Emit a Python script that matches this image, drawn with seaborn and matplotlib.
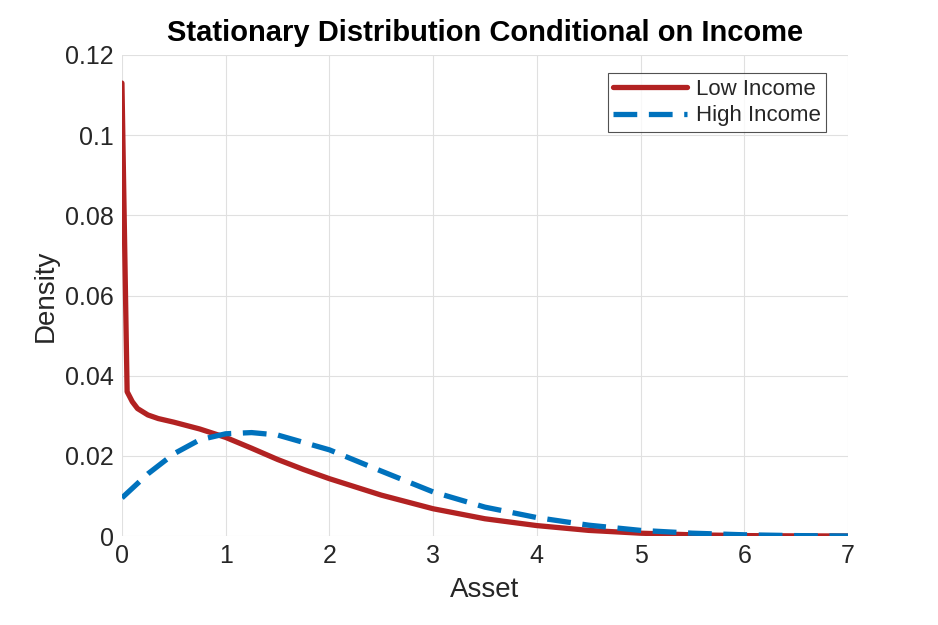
import matplotlib
matplotlib.use("Agg")
import matplotlib.pyplot as plt
import seaborn as sns
import pandas as pd

x_low = [0, 0.05, 0.1, 0.15, 0.25, 0.35, 0.5, 0.75, 1.0, 1.25, 1.5, 1.75, 2.0, 2.5, 3.0, 3.5, 4.0, 4.5, 5.0, 5.5, 6.0, 6.5, 7.0]
y_low = [0.113, 0.036, 0.0335, 0.0318, 0.0302, 0.0293, 0.0284, 0.0267, 0.0246, 0.0219, 0.0191, 0.0166, 0.0143, 0.0102, 0.0068, 0.0043, 0.0026, 0.0014, 0.0007, 0.0003, 0.0001, 0.00003, 0.0]
x_high = [0, 0.25, 0.5, 0.75, 1.0, 1.25, 1.5, 2.0, 2.5, 3.0, 3.5, 4.0, 4.5, 5.0, 5.5, 6.0, 6.5, 7.0]
y_high = [0.0095, 0.0155, 0.0205, 0.0240, 0.0255, 0.0258, 0.0252, 0.0215, 0.0162, 0.0110, 0.0072, 0.0046, 0.0027, 0.0014, 0.0007, 0.0003, 0.0001, 0.0]

sns.set_style("white")
plt.rcParams['font.family'] = ['Liberation Sans', 'DejaVu Sans']

fig = plt.figure(figsize=(9.38, 6.25), dpi=100)
ax = fig.add_axes([0.130, 0.1424, 0.774, 0.7696])
sns.lineplot(x=x_low, y=y_low, ax=ax, color='#B22222', lw=3.8, label='Low Income')
sns.lineplot(x=x_high, y=y_high, ax=ax, color='#0072BD', lw=3.8, ls=(0, (4.5, 2.2)), label='High Income')
ax.set_xlim(0, 7)
ax.set_ylim(0, 0.12)
ax.set_xticks(range(8))
ax.set_yticks([0, 0.02, 0.04, 0.06, 0.08, 0.1, 0.12])
ax.set_yticklabels(['0', '0.02', '0.04', '0.06', '0.08', '0.1', '0.12'])
ax.grid(True, color='#e0e0e0', lw=0.8)
for s in ax.spines.values():
    s.set_visible(False)
ax.tick_params(labelsize=18, colors='#262626', length=0, pad=6)
ax.set_xlabel('Asset', fontsize=20, color='#262626', labelpad=6)
ax.set_ylabel('Density', fontsize=20, color='#262626', labelpad=4)
ax.set_title('Stationary Distribution Conditional on Income', fontsize=21, fontweight='bold', color='black', pad=10)
leg = ax.legend(loc='upper right', fontsize=16, frameon=True, fancybox=False, handlelength=3.3,
                borderpad=0.25, labelspacing=0.25, handletextpad=0.4, bbox_to_anchor=(0.985, 0.985))
leg.get_frame().set_edgecolor('#262626')
leg.get_frame().set_linewidth(0.8)
fig.savefig('out.png', dpi=100)
